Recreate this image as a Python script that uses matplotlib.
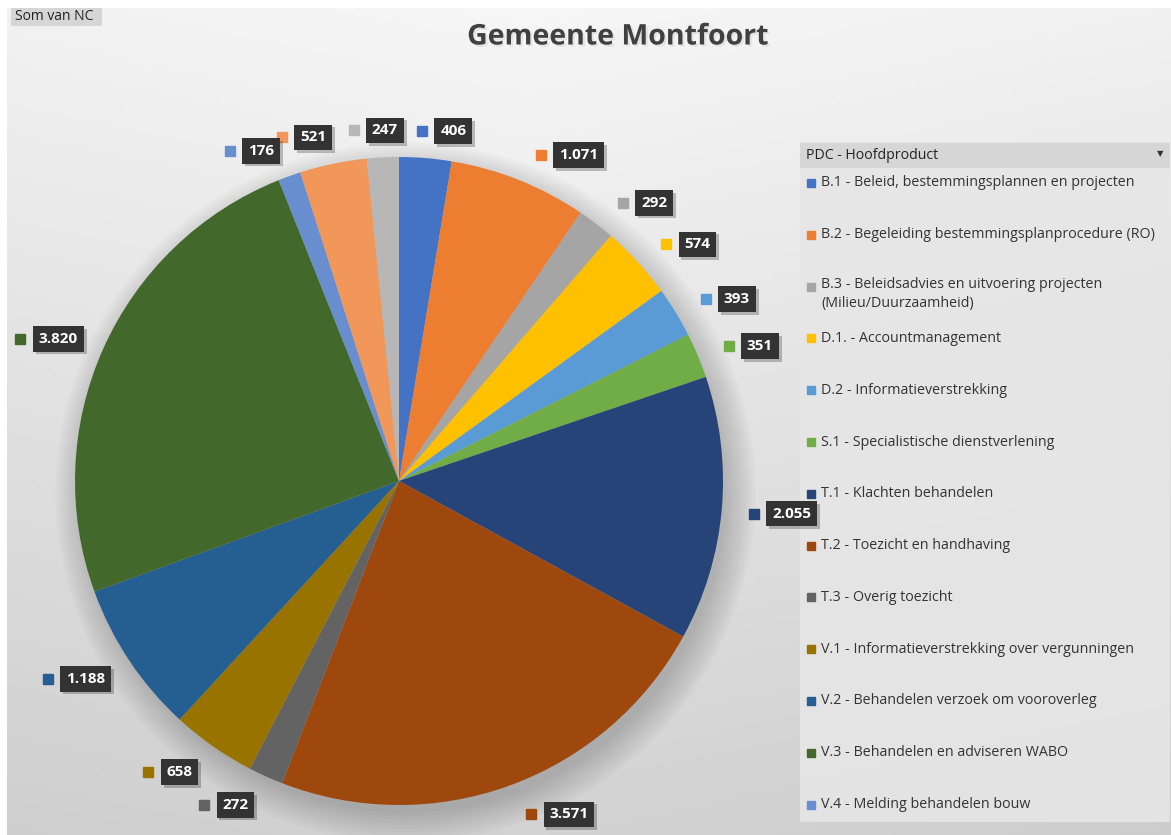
import numpy as np
import matplotlib.pyplot as plt
import matplotlib.patheffects as pe

# -------------------------------
# Data
# -------------------------------
title = "Gemeente Montfoort"
legend_title = "PDC - Hoofdproduct"
categories = [
    "B.1 - Beleid, bestemmingsplannen en projecten",
    "B.2 - Begeleiding bestemmingsplanprocedure (RO)",
    "B.3 - Beleidsadvies en uitvoering projecten\n(Milieu/Duurzaamheid)",
    "D.1. - Accountmanagement",
    "D.2 - Informatieverstrekking",
    "S.1 - Specialistische dienstverlening",
    "T.1 - Klachten behandelen",
    "T.2 - Toezicht en handhaving",
    "T.3 - Overig toezicht",
    "V.1 - Informatieverstrekking over vergunningen",
    "V.2 - Behandelen verzoek om vooroverleg",
    "V.3 - Behandelen en adviseren WABO",
    "V.4 - Melding behandelen bouw",
]
# last two slices have no visible legend entry (legend is cut off)
values = [406, 1071, 292, 574, 393, 351, 2055, 3571, 272, 658, 1188, 3820, 176, 521, 247]
value_labels = ["406", "1.071", "292", "574", "393", "351", "2.055", "3.571",
                "272", "658", "1.188", "3.820", "176", "521", "247"]
colors = ["#4472C4", "#ED7D31", "#A5A5A5", "#FFC000", "#5B9BD5", "#70AD47",
          "#264478", "#9E480E", "#636363", "#997300", "#255E91", "#43682B",
          "#698ED0", "#F1975A", "#B7B7B7"]

W, H = 1171, 835
cx, cy, R = 399, 481, 324  # pie centre / radius in pixels

plt.rcParams['font.family'] = ['Open Sans', 'DejaVu Sans']

fig = plt.figure(figsize=(W / 100, H / 100), dpi=100)

# -------------------------------
# background, header, legend panel
# -------------------------------
bg = fig.add_axes([0, 0, 1, 1])
bg.axis('off')
yy, xx = np.mgrid[0:1:200j, 0:1:300j]
grad = 0.965 - 0.14 * yy - 0.04 * np.abs(xx - 0.45)
bg.imshow(grad, cmap='gray', vmin=0, vmax=1, extent=[0, 1, 0, 1], aspect='auto', origin='upper')
bg.set_xlim(0, 1)
bg.set_ylim(0, 1)
# white frame strips
bg.add_patch(plt.Rectangle((0, 1 - 8 / H), 1, 8 / H, facecolor='white', edgecolor='none'))
bg.add_patch(plt.Rectangle((0, 0), 7 / W, 1, facecolor='white', edgecolor='none'))

bg.add_patch(plt.Rectangle((800 / W, 1 - 822 / H), 370 / W, 680 / H,
                           facecolor='#e6e6e6', edgecolor='none', alpha=0.9))
bg.add_patch(plt.Rectangle((800 / W, 1 - 168 / H), 370 / W, 25 / H,
                           facecolor='#d6d6d6', edgecolor='none'))
bg.text(806 / W, 1 - 155.5 / H, legend_title, fontsize=10.2, color='#222222',
        va='center', ha='left')
bg.text(1160 / W, 1 - 155 / H, "\u25BC", fontsize=6, color='#333333',
        va='center', ha='center')

bg.add_patch(plt.Rectangle((11 / W, 1 - 26 / H), 91 / W, 18 / H,
                           facecolor='#d6d6d6', edgecolor='none'))
bg.text(15 / W, 1 - 17 / H, "Som van NC", fontsize=10, color='#222222',
        va='center', ha='left')

bg.text(618 / W, 1 - 37 / H, title, fontsize=20.5, fontweight='bold',
        color='#404040', ha='center', va='center',
        path_effects=[pe.withSimplePatchShadow(offset=(1.5, -1.5), alpha=0.07)])

# -------------------------------
# pie
# -------------------------------
ax = fig.add_axes([0, 0, 1, 1])
ax.patch.set_alpha(0)

# soft shadow
for k in range(10):
    ax.add_patch(plt.Circle((0.02, -0.035), 0.99 + 0.01 * k, color='black',
                            alpha=0.018, lw=0))

wedges, _ = ax.pie(values, colors=colors, startangle=90, counterclock=False,
                   radius=1, center=(0, 0), frame=True,
                   wedgeprops=dict(linewidth=0))
ax.set_xlim(-cx / R, (W - cx) / R)
ax.set_ylim((cy - H) / R, cy / R)
ax.set_aspect('auto')
ax.axis('off')

# data labels "outside end": key square + dark box
for w, lab, col in zip(wedges, value_labels, colors):
    ang = np.deg2rad((w.theta1 + w.theta2) / 2)
    c, s = np.cos(ang), np.sin(ang)
    ndig = sum(ch.isdigit() for ch in lab)
    box_w = 12 + 9.5 * ndig + 4 * (len(lab) - ndig)
    grp_w = 16 + box_w
    # anchor in pixels (relative to centre), then shift the label group
    ax_px, ay_px = 1.04 * R * c, 1.04 * R * s
    gx = ax_px + np.tanh(5 * c) * (grp_w / 2 + 10) + 4
    gy = ay_px + s * 16 - 2
    key_x = (gx - grp_w / 2 + 5) / R
    box_x = (gx - grp_w / 2 + 16 + box_w / 2) / R
    y = gy / R
    t = ax.text(box_x, y, lab, ha='center', va='center', fontsize=11,
                fontweight='bold', color='white',
                bbox=dict(boxstyle='square,pad=0.38', facecolor='#333333',
                          edgecolor='none'))
    t.get_bbox_patch().set_path_effects(
        [pe.SimplePatchShadow(offset=(2, -2), alpha=0.25), pe.Normal()])
    ax.plot([key_x], [y], marker='s', markersize=7, color=col, linestyle='none')

# -------------------------------
# legend entries
# -------------------------------
ly = 183
for name, col in zip(categories, colors):
    bg.plot([811 / W], [1 - ly / H], marker='s', markersize=6, color=col,
            linestyle='none')
    if '\n' in name:
        bg.text(821 / W, 1 - (ly - 10) / H, name, fontsize=10.3, color='#333333',
                ha='left', va='top', linespacing=1.4)
    else:
        bg.text(821 / W, 1 - ly / H, name, fontsize=10.3, color='#333333',
                ha='left', va='center')
    ly += 51.8

fig.savefig("out.png", dpi=100)
